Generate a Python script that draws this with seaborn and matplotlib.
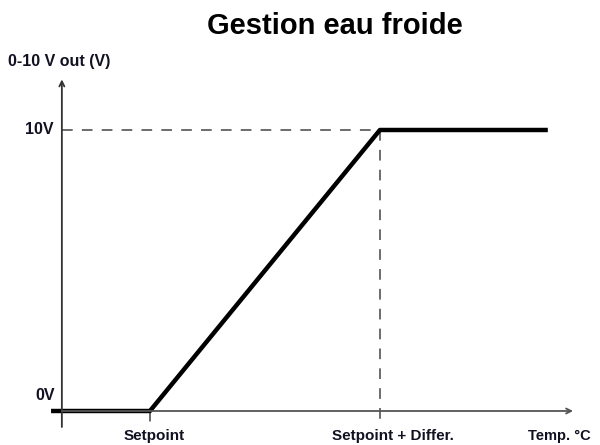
import matplotlib
matplotlib.use("Agg")
import matplotlib.pyplot as plt
import seaborn as sns
import pandas as pd

# Control curve: 0 V below setpoint, linear ramp over the differential, 10 V above
curve_x = [-0.43, 0.0, 1.0, 1.73]
curve_y = [0.0, 0.0, 10.0, 10.0]

x_tick_pos = [0.0, 1.0]
x_tick_labels = ["Setpoint", "Setpoint + Differ."]
y_tick_pos = [0.0, 10.0]
y_tick_labels = ["0V", "10V"]

title = "Gestion eau froide"
y_title = "0-10 V out (V)"
x_title = "Temp. °C"

sns.set_style("white")
plt.rcParams["font.family"] = ["Liberation Sans", "DejaVu Sans"]

fig = plt.figure(figsize=(6.0, 4.45), dpi=100)
ax = fig.add_axes([0, 0, 1, 1])
ax.set_xlim(-0.652, 1.957)
ax.set_ylim(-1.21, 14.626)
ax.axis("off")

text_color = "#111122"
axis_color = "#333333"
y_axis_x = -0.383

# axes with arrows
ax.annotate("", xy=(y_axis_x, 11.8), xytext=(y_axis_x, -0.57),
            arrowprops=dict(arrowstyle="->", color=axis_color, lw=1.3,
                            shrinkA=0, shrinkB=0, mutation_scale=9))
ax.annotate("", xy=(1.84, 0.0), xytext=(y_axis_x, 0.0),
            arrowprops=dict(arrowstyle="->", color="#555555", lw=1.3,
                            shrinkA=0, shrinkB=0, mutation_scale=9))

# guide lines at full output
ax.plot([y_axis_x, 1.0], [10, 10], color="#444444", lw=1.1, ls=(0, (7, 6)))
ax.plot([1.0, 1.0], [10, -0.35], color="#444444", lw=1.1, ls=(0, (7, 6)))
ax.plot([0.0, 0.0], [0, -0.35], color="#444444", lw=1.1)

df = pd.DataFrame({"x": curve_x, "y": curve_y})
sns.lineplot(data=df, x="x", y="y", ax=ax, color="black", lw=3.2,
             sort=False, estimator=None, solid_capstyle="butt")

for xp, lab in zip(x_tick_pos, x_tick_labels):
    ax.text(xp + 0.017 + 0.04 * xp, -0.9, lab, ha="center", va="center",
            fontsize=11, fontweight="bold", color=text_color)
ax.text(1.643, -0.9, x_title, ha="left", va="center", fontsize=10.5,
        fontweight="bold", color=text_color)

ax.text(-0.42, 10, y_tick_labels[1], ha="right", va="center", fontsize=11.5,
        fontweight="bold", color=text_color)
ax.text(-0.413, 0.55, y_tick_labels[0], ha="right", va="center", fontsize=11.5,
        fontweight="bold", color=text_color)
ax.text(-0.618, 12.42, y_title, ha="left", va="center", fontsize=11.5,
        fontweight="bold", color=text_color)

ax.text(0.803, 13.7, title, ha="center", va="center", fontsize=21,
        fontweight="bold", color="black")

fig.savefig("out.png", dpi=100)
